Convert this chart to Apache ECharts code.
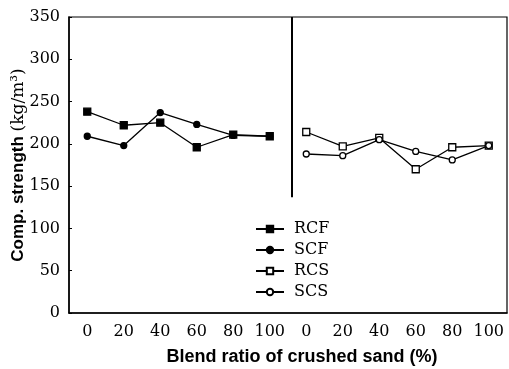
<!DOCTYPE html>
<html>
<head>
<meta charset="utf-8">
<script src="https://cdn.jsdelivr.net/npm/echarts@6/dist/echarts.min.js"></script>
<style>
  html, body { margin: 0; padding: 0; background: #fff; }
  #chart { width: 509px; height: 369px; }
</style>
</head>
<body>
<div id="chart"></div>
<script>
// blend ratio categories, fine (left) then coarse (right) panel
const ratios = ["0", "20", "40", "60", "80", "100"];
const yTicks = [0, 50, 100, 150, 200, 250, 300, 350];

// compressive strength, kg/m3
const rcf = [238, 222, 225, 196, 211, 209];
const scf = [209, 198, 237, 223, 210, 209];
const rcs = [214, 197, 207, 170, 196, 198];
const scs = [188, 186, 205, 191, 181, 198];

const blank = ratios.map(() => null);
const categories = ratios.concat(ratios);

const serif = "DejaVu Serif";
const sans = "Liberation Sans";

const chart = echarts.init(document.getElementById("chart"));

function lineSeries(name, data, symbol, filled) {
  return {
    name: name,
    type: "line",
    data: data,
    symbol: symbol,
    symbolSize: symbol === "rect" ? 7 : 6,
    showAllSymbol: true,
    connectNulls: false,
    lineStyle: { color: "#000", width: 1.3 },
    itemStyle: {
      color: filled ? "#000" : "#fff",
      borderColor: "#000",
      borderWidth: 1.3
    },
    animation: false
  };
}

const option = {
  backgroundColor: "#fff",
  grid: {
    left: 69,
    right: 2,
    top: 17,
    bottom: 56,
    containLabel: false,
    outerBoundsMode: "none",
    show: true,
    borderColor: "#000",
    borderWidth: 1.2
  },
  legend: {
    orient: "vertical",
    left: 250,
    top: 216,
    itemWidth: 28,
    itemHeight: 8,
    itemGap: 5,
    data: ["RCF", "SCF", "RCS", "SCS"],
    textStyle: { fontFamily: serif, fontSize: 16, color: "#000", padding: [0, 0, 0, 5] }
  },
  xAxis: [
    {
      type: "category",
      data: categories,
      boundaryGap: true,
      axisLine: { lineStyle: { color: "#000", width: 1.5 } },
      axisTick: { show: false },
      axisLabel: {
        interval: 0,
        margin: 11,
        fontFamily: serif,
        fontSize: 16,
        color: "#000"
      },
      name: "Blend ratio of crushed sand (%)",
      nameLocation: "middle",
      nameGap: 35,
      nameTextStyle: {
        fontFamily: sans,
        fontSize: 18,
        fontWeight: "bold",
        color: "#000",
        padding: [0, 0, 0, 28]
      }
    },
    {
      type: "value",
      min: 0,
      max: 12,
      show: false
    }
  ],
  yAxis: {
    type: "value",
    min: yTicks[0],
    max: yTicks[yTicks.length - 1],
    interval: 50,
    axisLine: { show: true, lineStyle: { color: "#000", width: 1.5 } },
    axisTick: { show: true, inside: true, length: 3, lineStyle: { color: "#000" } },
    splitLine: { show: false },
    axisLabel: { margin: 9, fontFamily: serif, fontSize: 16, color: "#000" },
    name: "{s|Comp. strength }{u|(kg/m³)}",
    nameLocation: "middle",
    nameGap: 42,
    nameMoveOverlap: false,
    nameTextStyle: {
      rich: {
        s: { fontFamily: sans, fontSize: 17, fontWeight: "bold", color: "#000" },
        u: { fontFamily: serif, fontSize: 17, color: "#000" }
      }
    }
  },
  series: [
    lineSeries("RCF", rcf.concat(blank), "rect", true),
    lineSeries("SCF", scf.concat(blank), "circle", true),
    lineSeries("RCS", blank.concat(rcs), "rect", false),
    lineSeries("SCS", blank.concat(scs), "circle", false),
    {
      name: "divider",
      type: "line",
      xAxisIndex: 1,
      data: [],
      animation: false,
      markLine: {
        silent: true,
        symbol: "none",
        label: { show: false },
        lineStyle: { color: "#000", width: 2, type: "solid" },
        data: [[{ coord: [6.1, 137] }, { coord: [6.1, 350] }]]
      }
    }
  ]
};

chart.setOption(option);
</script>
</body>
</html>
